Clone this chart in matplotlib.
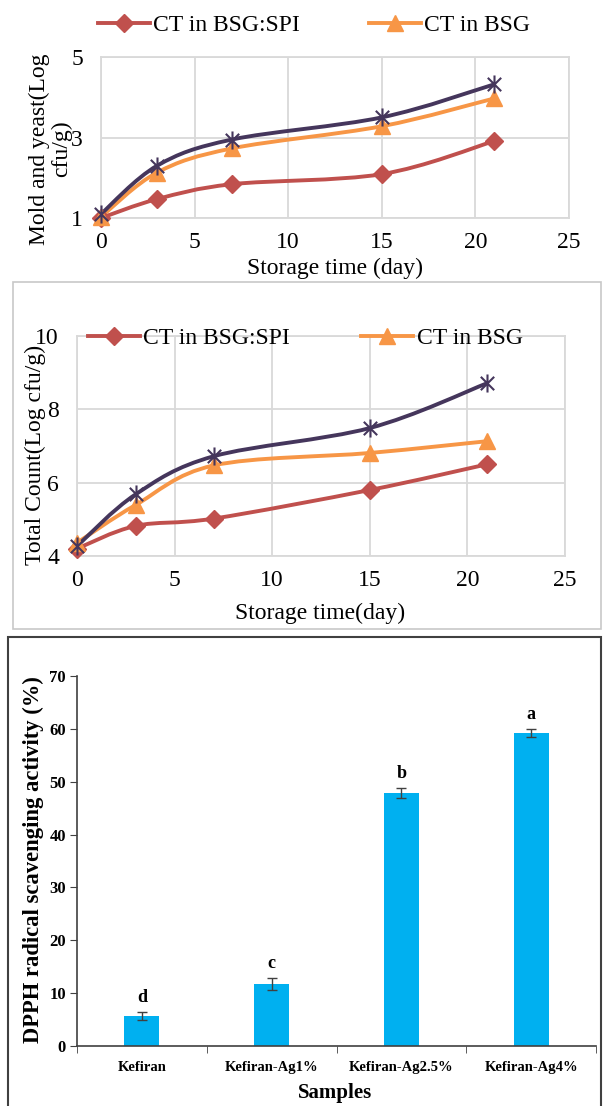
import matplotlib
matplotlib.use("Agg")
import matplotlib.pyplot as plt
import numpy as np
from matplotlib.lines import Line2D
from matplotlib.patches import PathPatch, Rectangle
from matplotlib.path import Path

plt.rcParams["font.family"] = ["Liberation Serif", "DejaVu Serif"]

days = [0, 3, 7, 15, 21]

mold_spi = [1.0, 1.47, 1.84, 2.09, 2.91]
mold_bsg = [1.03, 2.13, 2.73, 3.28, 3.97]
mold_ct = [1.1, 2.3, 2.95, 3.5, 4.32]

total_spi = [4.2, 4.82, 5.02, 5.8, 6.5]
total_bsg = [4.36, 5.39, 6.47, 6.81, 7.13]
total_ct = [4.27, 5.68, 6.72, 7.49, 8.71]

legend_names = ["CT in BSG:SPI", "CT in BSG"]

samples = ["Kefiran", "Kefiran-Ag1%", "Kefiran-Ag2.5%", "Kefiran-Ag4%"]
dpph = [5.7, 11.7, 47.9, 59.2]
dpph_err = [0.7, 1.1, 0.9, 0.8]
dpph_letters = ["d", "c", "b", "a"]

RED = "#C0504D"
ORANGE = "#F79646"
PURPLE = "#45365C"
GRID = "#D9D9D9"
BAR = "#00B0F0"

W, H = 604, 1106

# Excel style "star": an x with a vertical bar through it
STAR = Path([(-1, -1), (1, 1), (-1, 1), (1, -1), (0, -1.35), (0, 1.35)],
            [Path.MOVETO, Path.LINETO] * 3)


def smooth_path(x, y):
    # Excel-like smoothed line: cubic Bezier through the points
    pts = np.column_stack([x, y]).astype(float)
    n = len(pts)
    verts = [pts[0]]
    codes = [Path.MOVETO]
    for i in range(n - 1):
        p0 = pts[max(i - 1, 0)]
        p1 = pts[i]
        p2 = pts[i + 1]
        p3 = pts[min(i + 2, n - 1)]
        verts += [p1 + (p2 - p0) / 6, p2 - (p3 - p1) / 6, p2]
        codes += [Path.CURVE4] * 3
    return Path(verts, codes)


def px_axes(fig, left, top, right, bottom):
    return fig.add_axes([left / W, 1 - bottom / H, (right - left) / W, (bottom - top) / H])


def line_panel(ax, spi, bsg, ct, ylim, yticks):
    styles = [
        (spi, RED, "D", 9, 1),
        (bsg, ORANGE, "^", 12, 1),
        (ct, PURPLE, STAR, 13, 1.5),
    ]
    for y, color, marker, ms, mew in styles:
        ax.add_patch(PathPatch(smooth_path(days, y), fill=False, edgecolor=color,
                               lw=2.8, capstyle="round", joinstyle="round", zorder=3))
        ax.plot(days, y, ls="none", marker=marker, ms=ms, color=color,
                mec=color, mew=mew, zorder=4, clip_on=False)
    ax.set_xlim(0, 25)
    ax.set_ylim(*ylim)
    ax.set_xticks(range(0, 26, 5))
    ax.set_yticks(yticks)
    ax.grid(color=GRID, lw=1.3)
    ax.set_axisbelow(True)
    for sp in ax.spines.values():
        sp.set_color(GRID)
        sp.set_linewidth(1.3)
    ax.tick_params(length=0, labelsize=17)
    ax.tick_params(axis="y", pad=13)
    ax.tick_params(axis="x", pad=10)


def add_legend(fig, x, y, colspace):
    handles = [
        Line2D([], [], color=RED, lw=2.8, marker="D", ms=9),
        Line2D([], [], color=ORANGE, lw=2.8, marker="^", ms=12),
    ]
    fig.legend(handles, legend_names, loc="center left", bbox_to_anchor=(x / W, 1 - y / H),
               ncol=2, frameon=False, fontsize=17, handlelength=2.2, handletextpad=0.15,
               columnspacing=colspace, borderpad=0, borderaxespad=0, numpoints=1)


fig = plt.figure(figsize=(W / 100, H / 100), dpi=100)

# --- Mold and yeast ---
ax1 = px_axes(fig, 101, 57, 569, 218)
line_panel(ax1, mold_spi, mold_bsg, mold_ct, (1, 5), [1, 3, 5])
ax1.set_ylabel("Mold and yeast(Log\ncfu/g)", fontsize=17, linespacing=1.05)
ax1.yaxis.set_label_coords(-0.062, 0.43)
ax1.set_xlabel("Storage time (day)", fontsize=17)
ax1.xaxis.set_label_coords(0.5, -0.25)
add_legend(fig, 98, 25, 2.9)

# --- Total count ---
fig.patches.append(Rectangle((13 / W, 1 - 629 / H), 588 / W, 347 / H, transform=fig.transFigure,
                             fill=False, edgecolor="#C8C8C8", lw=1.2))
ax2 = px_axes(fig, 77, 336, 565, 556)
line_panel(ax2, total_spi, total_bsg, total_ct, (4, 10), [4, 6, 8, 10])
ax2.set_ylabel("Total Count(Log cfu/g)", fontsize=17)
ax2.yaxis.set_label_coords(-0.063, 0.46)
ax2.set_xlabel("Storage time(day)", fontsize=17)
ax2.xaxis.set_label_coords(0.498, -0.215)
add_legend(fig, 88, 338, 3.0)

# --- DPPH bars ---
fig.patches.append(Rectangle((8 / W, -0.01), 0.995 - 8 / W, 1 - 637 / H + 0.01,
                             transform=fig.transFigure, fill=False, edgecolor="#404040", lw=1.5))
ax3 = px_axes(fig, 77, 676, 596, 1046)
x = np.arange(len(samples))
ax3.bar(x, dpph, width=0.27, color=BAR, zorder=2)
ax3.errorbar(x, dpph, yerr=dpph_err, fmt="none", ecolor="#404040", elinewidth=1,
             capsize=3.5, capthick=1, zorder=3)
for xi, v, e, lab in zip(x, dpph, dpph_err, dpph_letters):
    ax3.text(xi, v + e + 1.2, lab, ha="center", va="bottom", fontsize=13, fontweight="bold")
ax3.set_xlim(-0.5, len(samples) - 0.5)
ax3.set_ylim(0, 70)
ax3.set_yticks(range(0, 71, 10))
ax3.set_xticks(x)
ax3.set_xticklabels(samples, fontsize=10.5, fontweight="bold")
ax3.set_xticks(np.arange(-0.5, len(samples)), minor=True)
ax3.tick_params(axis="x", which="major", length=0, pad=11)
ax3.tick_params(axis="x", which="minor", length=5, color="#404040")
ax3.tick_params(axis="y", length=5, color="#404040", labelsize=12, pad=3)
for lab in ax3.get_yticklabels():
    lab.set_fontweight("bold")
for side in ("top", "right"):
    ax3.spines[side].set_visible(False)
for side in ("left", "bottom"):
    ax3.spines[side].set_color("#404040")
    ax3.spines[side].set_linewidth(1.2)
ax3.set_ylabel("DPPH radical scavenging activity (%)", fontsize=16.3, fontweight="bold")
ax3.yaxis.set_label_coords(-0.0636, 0.503)
ax3.set_xlabel("Samples", fontsize=15, fontweight="bold")
ax3.xaxis.set_label_coords(0.497, -0.1)

fig.savefig("out.png", dpi=100)
